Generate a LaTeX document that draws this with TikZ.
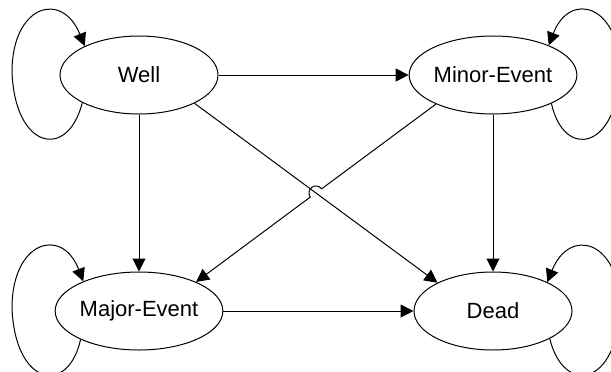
\documentclass[tikz,border=0pt]{standalone}
\usepackage{fontspec}
\setmainfont{Liberation Sans}
\usetikzlibrary{arrows.meta,calc,shapes.geometric}

\begin{document}
\begin{tikzpicture}[x=0.5pt, y=-0.5pt,
	stnode/.style={draw, ellipse, minimum width=79pt, minimum height=39pt, inner sep=0pt, line width=0.5pt, font=\fontsize{11}{13}\selectfont},
	arr/.style={line width=0.5pt, -{Triangle[length=6.5pt, width=6.5pt]}}]
	\clip (0,0) rectangle (611,371);

	\node[stnode] (well) at (139,75) {Well};
	\node[stnode] (minor) at (493,75) {Minor-Event};
	\node[stnode] (major) at (139,311) {Major-Event};
	\node[stnode] (dead) at (493,311) {Dead};

	% self loops
	\draw[arr] (well.206) .. controls (68,160) and (15,150) .. (12,72) .. controls (12,5) and (62,-10) .. (well.152);
	\draw[arr] (major.206) .. controls (68,396) and (15,386) .. (12,308) .. controls (12,241) and (62,226) .. (major.152);
	\draw[arr] (minor.-26) .. controls (564,160) and (617,150) .. (620,72) .. controls (620,5) and (570,-10) .. (minor.28);
	\draw[arr] (dead.-26) .. controls (564,396) and (617,386) .. (620,308) .. controls (620,241) and (570,226) .. (dead.28);

	\draw[arr] (well) -- (minor);
	\draw[arr] (well) -- (major);
	\draw[arr] (minor) -- (dead);
	\draw[arr] (major) -- (dead);
	\draw[arr] (well.-27) -- (dead.153);

	% hop over the crossing
	\coordinate (cross) at ($(minor.207)!0.5!(major.27)$);
	\draw[arr] (minor.207) -- ($(cross)!3.5pt!(minor.207)$) arc[start angle=36, end angle=216, radius=3.5pt] -- (major.27);
\end{tikzpicture}
\end{document}
